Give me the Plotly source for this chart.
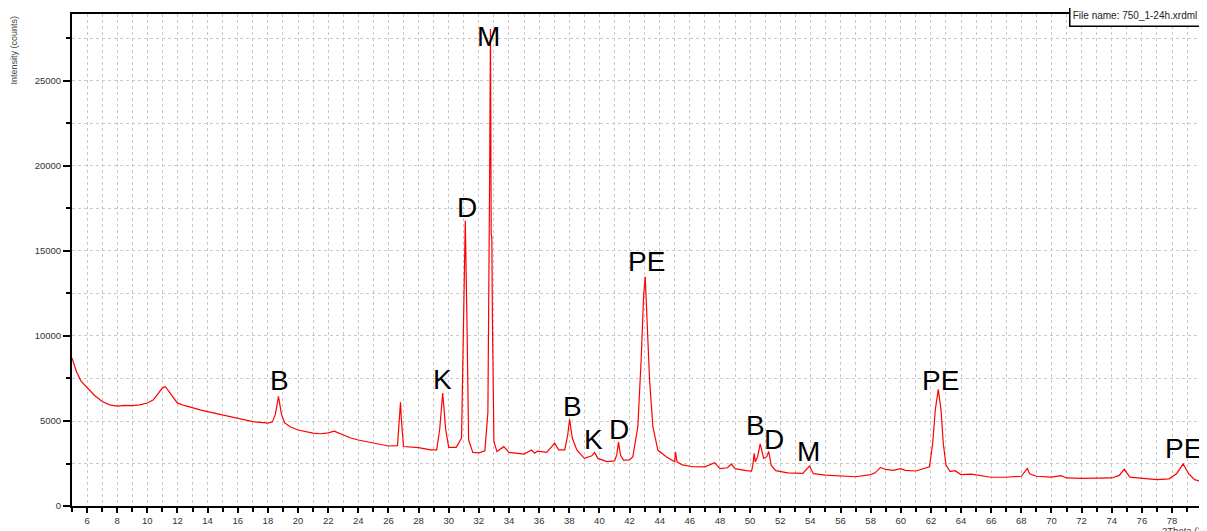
import plotly.graph_objects as go

# 2Theta (degrees) and intensity (counts)
two_theta = [
    5.0, 5.3, 5.6, 6.0, 6.5, 7.0, 7.5, 8.0, 8.5, 9.0, 9.5, 10.0, 10.4, 10.7, 11.0, 11.2,
    11.5, 11.8, 12.0, 12.5, 13.0, 13.5, 14.0, 14.5, 15.0, 15.5, 16.0, 16.5, 17.0, 17.5,
    18.0, 18.3, 18.5, 18.7, 18.9, 19.1, 19.5, 20.0, 20.5, 21.0, 21.5, 22.0, 22.4, 22.8,
    23.5, 24.0, 25.0, 26.0, 26.6, 26.75, 26.8, 26.85, 27.0, 28.0, 28.8, 29.2, 29.4, 29.6,
    29.8, 30.0, 30.5, 30.85, 31.0, 31.1, 31.22, 31.32, 31.6, 32.0, 32.4, 32.6, 32.72, 32.77,
    32.82, 32.86, 32.9, 33.0, 33.2, 33.65, 34.0, 35.0, 35.5, 35.7, 35.9, 36.5, 37.03, 37.3,
    37.7, 37.9, 38.02, 38.2, 38.5, 39.0, 39.5, 39.68, 39.9, 40.5, 41.0, 41.15, 41.27, 41.4,
    41.6, 42.0, 42.22, 42.55, 42.78, 42.93, 43.04, 43.15, 43.33, 43.55, 43.88, 44.43, 45.0, 45.05, 45.15,
    45.5, 46.2, 47.0, 47.65, 48.0, 48.5, 48.75, 49.0, 49.74, 50.1, 50.2, 50.27, 50.35, 50.5,
    50.67, 50.9, 51.1, 51.24, 51.4, 51.7, 52.5, 53.5, 53.94, 54.2, 55.0, 56.0, 57.0, 58.0,
    58.3, 58.65, 59.0, 59.5, 60.0, 60.3, 61.0, 61.9, 62.12, 62.29, 62.49, 62.67, 62.82, 63.0, 63.27,
    63.6, 64.0, 64.66, 65.2, 66.0, 67.0, 68.0, 68.4, 68.55, 69.0, 70.0, 70.63, 71.0, 72.0,
    73.0, 74.0, 74.5, 74.83, 75.2, 76.0, 77.0, 77.8, 78.3, 78.74, 79.1, 79.5, 80.0,
]
intensity = [
    8700, 7900, 7350, 6950, 6500, 6150, 5950, 5880, 5920, 5900, 5950, 6060, 6250, 6600, 6950, 7020,
    6650, 6250, 6050, 5900, 5760, 5650, 5550, 5450, 5350, 5250, 5160, 5060, 4960, 4920,
    4880, 4950, 5400, 6450, 5400, 4900, 4650, 4470, 4380, 4290, 4250, 4300, 4400, 4250,
    4000, 3880, 3700, 3530, 3550, 5200, 6100, 5200, 3500, 3430, 3300, 3300, 4500, 6650,
    4500, 3450, 3450, 4000, 11350, 16780, 10350, 3880, 3150, 3130, 3250, 5500, 20000, 28060,
    16000, 15800, 11000, 3800, 3200, 3490, 3150, 3050, 3290, 3100, 3230, 3150, 3690, 3300,
    3300, 4200, 5100, 4000, 3300, 2800, 2950, 3140, 2800, 2610, 2650, 3000, 3760, 3000,
    2700, 2710, 2900, 4660, 8780, 12300, 13490, 11350, 7400, 4660, 3290, 2900, 2600, 3190, 2600,
    2420, 2310, 2300, 2550, 2200, 2250, 2470, 2200, 2080, 2050, 2500, 3100, 2600, 2900,
    3650, 2800, 2900, 3200, 2400, 2080, 1950, 1920, 2350, 1900, 1820, 1750, 1720, 1850,
    1950, 2270, 2150, 2100, 2200, 2100, 2060, 2310, 3690, 5650, 6860, 5650, 3690, 2410, 2020,
    2080, 1850, 1880, 1820, 1690, 1690, 1750, 2210, 1900, 1750, 1700, 1780, 1650, 1630,
    1620, 1650, 1800, 2160, 1700, 1630, 1550, 1600, 1900, 2470, 1900, 1550, 1430,
]

# Phase labels
label_text = ["B", "K", "D", "M", "B", "K", "D", "PE", "B", "D", "M", "PE", "PE"]
label_x = [18.75, 29.58, 31.21, 32.67, 38.2, 39.62, 41.29, 43.11, 50.33, 51.6, 53.89, 62.63, 78.74]
label_y = [7370, 7450, 17570, 27600, 5880, 3940, 4510, 14370, 4760, 3920, 3235, 7410, 3390]

x_range = [5, 79.99]
y_range = [0, 28940]

FONT = "Liberation Sans, Arial, sans-serif"

fig = go.Figure()
fig.add_trace(go.Scatter(
    x=two_theta, y=intensity, mode="lines",
    line=dict(color="#ff0000", width=1.2), hoverinfo="skip", showlegend=False,
))

for t, x, y in zip(label_text, label_x, label_y):
    fig.add_annotation(
        x=x, y=y, xref="x", yref="y", text=t, showarrow=False,
        xanchor="center", yanchor="middle",
        font=dict(family=FONT, size=28, color="#000000"),
    )

grid_color = "#c9c9c9"
tick_font = dict(family=FONT, size=9.5, color="#333333")

fig.update_xaxes(
    range=x_range, tick0=0, dtick=2, ticks="outside", ticklen=5, tickwidth=1.5,
    tickcolor="#000000", showline=True, linecolor="#000000", linewidth=2, mirror=True,
    showgrid=True, gridcolor=grid_color, griddash="dot", gridwidth=1,
    zeroline=False, tickfont=tick_font,
    minor=dict(dtick=1, ticks="outside", ticklen=4, tickwidth=1.5, tickcolor="#000000",
               showgrid=True, gridcolor=grid_color, griddash="dot", gridwidth=1),
)
fig.update_yaxes(
    range=y_range, tick0=0, dtick=5000, ticks="outside", ticklen=7, tickwidth=1.5,
    tickcolor="#000000", showline=True, linecolor="#000000", linewidth=2, mirror=True,
    showgrid=True, gridcolor=grid_color, griddash="dot", gridwidth=1,
    zeroline=False, tickfont=tick_font, tickformat="d",
    minor=dict(dtick=2500, ticks="outside", ticklen=4, tickwidth=1.5, tickcolor="#000000",
               showgrid=True, gridcolor=grid_color, griddash="dot", gridwidth=1),
)

# Axis titles placed like the instrument software export
fig.add_annotation(
    xref="paper", yref="paper", x=(13 - 72) / 1132, y=1.0, xanchor="center", yanchor="top",
    text="Intensity (counts)", textangle=-90, showarrow=False,
    font=dict(family=FONT, size=9, color="#444444"),
)
fig.add_annotation(
    xref="paper", yref="paper", x=(1185 - 72) / 1132, y=(506 - 523) / 492,
    xanchor="center", yanchor="top", text="2Theta (°)", showarrow=False,
    font=dict(family=FONT, size=9.5, color="#333333"),
)

# File name box
fig.add_annotation(
    xref="paper", yref="paper", x=(1203 - 72) / 1132, y=(506 - 4) / 492,
    xanchor="right", yanchor="top", text="File name: 750_1-24h.xrdml", showarrow=False,
    width=127, height=18, borderpad=1, borderwidth=1.5, bordercolor="#000000",
    bgcolor="#ffffff", align="center",
    font=dict(family=FONT, size=10, color="#222222"),
)

# The page body adds an 8px offset; size the figure so the plot area lands at
# x 72..1204, y 14..506 of the 1207x531 window.
fig.update_layout(
    width=1199, height=523,
    margin=dict(l=64, r=3, t=6, b=25),
    paper_bgcolor="#ffffff", plot_bgcolor="#ffffff",
    showlegend=False,
)

fig.write_html("out.html")
